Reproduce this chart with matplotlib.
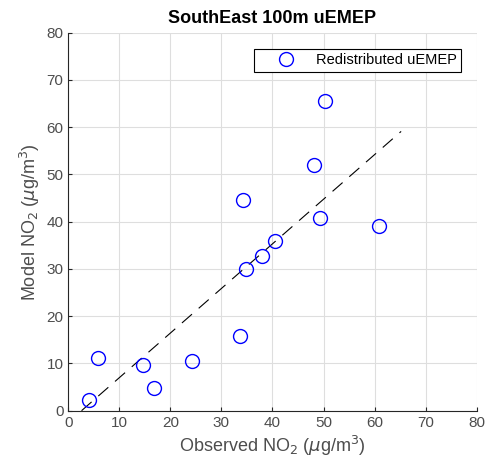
import matplotlib
matplotlib.use('Agg')
import matplotlib.pyplot as plt

# observed vs modelled NO2 at stations
observed = [4.0, 5.9, 14.7, 16.7, 24.3, 33.7, 34.2, 34.9, 37.9, 40.5, 48.2, 49.3, 50.2, 60.9]
model = [2.3, 11.1, 9.6, 4.7, 10.6, 15.7, 44.6, 29.9, 32.7, 36.0, 52.1, 40.8, 65.5, 39.0]

# dashed fit line end points
fit_x = [2.6, 65.2]
fit_y = [0.0, 59.1]

ticks = [0, 10, 20, 30, 40, 50, 60, 70, 80]

plt.rcParams['font.family'] = ['Liberation Sans', 'DejaVu Sans']
plt.rcParams['mathtext.fontset'] = 'dejavusans'

fig = plt.figure(figsize=(4.87, 4.66), dpi=100)
ax = fig.add_axes([0.1402, 0.1187, 0.8386, 0.8112])

ax.plot(observed, model, 'o', ms=10, mfc='none', mec='#0000ff', mew=1.0,
        label='Redistributed uEMEP', zorder=3)
ax.plot(fit_x, fit_y, '--', color='black', lw=0.8, dashes=(12, 8), zorder=2)

ax.set_xlim(0, 80)
ax.set_ylim(0, 80)
ax.set_xticks(ticks)
ax.set_yticks(ticks)
ax.grid(True, color='#dedede', lw=0.8)
ax.set_axisbelow(True)
for s in ['top', 'right']:
    ax.spines[s].set_visible(False)
for s in ['left', 'bottom']:
    ax.spines[s].set_color('#262626')
    ax.spines[s].set_linewidth(0.8)
ax.tick_params(direction='in', length=3, colors='#262626', labelsize=11, labelcolor='#4d4d4d')

ax.set_xlabel(r'Observed NO$_2$ ($\mu$g/m$^3$)', fontsize=13, color='#4d4d4d', labelpad=3)
ax.set_ylabel(r'Model NO$_2$ ($\mu$g/m$^3$)', fontsize=13, color='#4d4d4d', labelpad=3)
ax.set_title('SouthEast 100m uEMEP', fontsize=13, fontweight='bold', pad=7)

leg = ax.legend(loc='upper right', bbox_to_anchor=(0.9616, 0.957), fontsize=10.5,
                fancybox=False, edgecolor='black', framealpha=1,
                handlelength=3.7, handletextpad=0.2, borderpad=0.3,
                borderaxespad=0)
leg.get_frame().set_linewidth(0.8)

fig.savefig('out.png', dpi=100)
